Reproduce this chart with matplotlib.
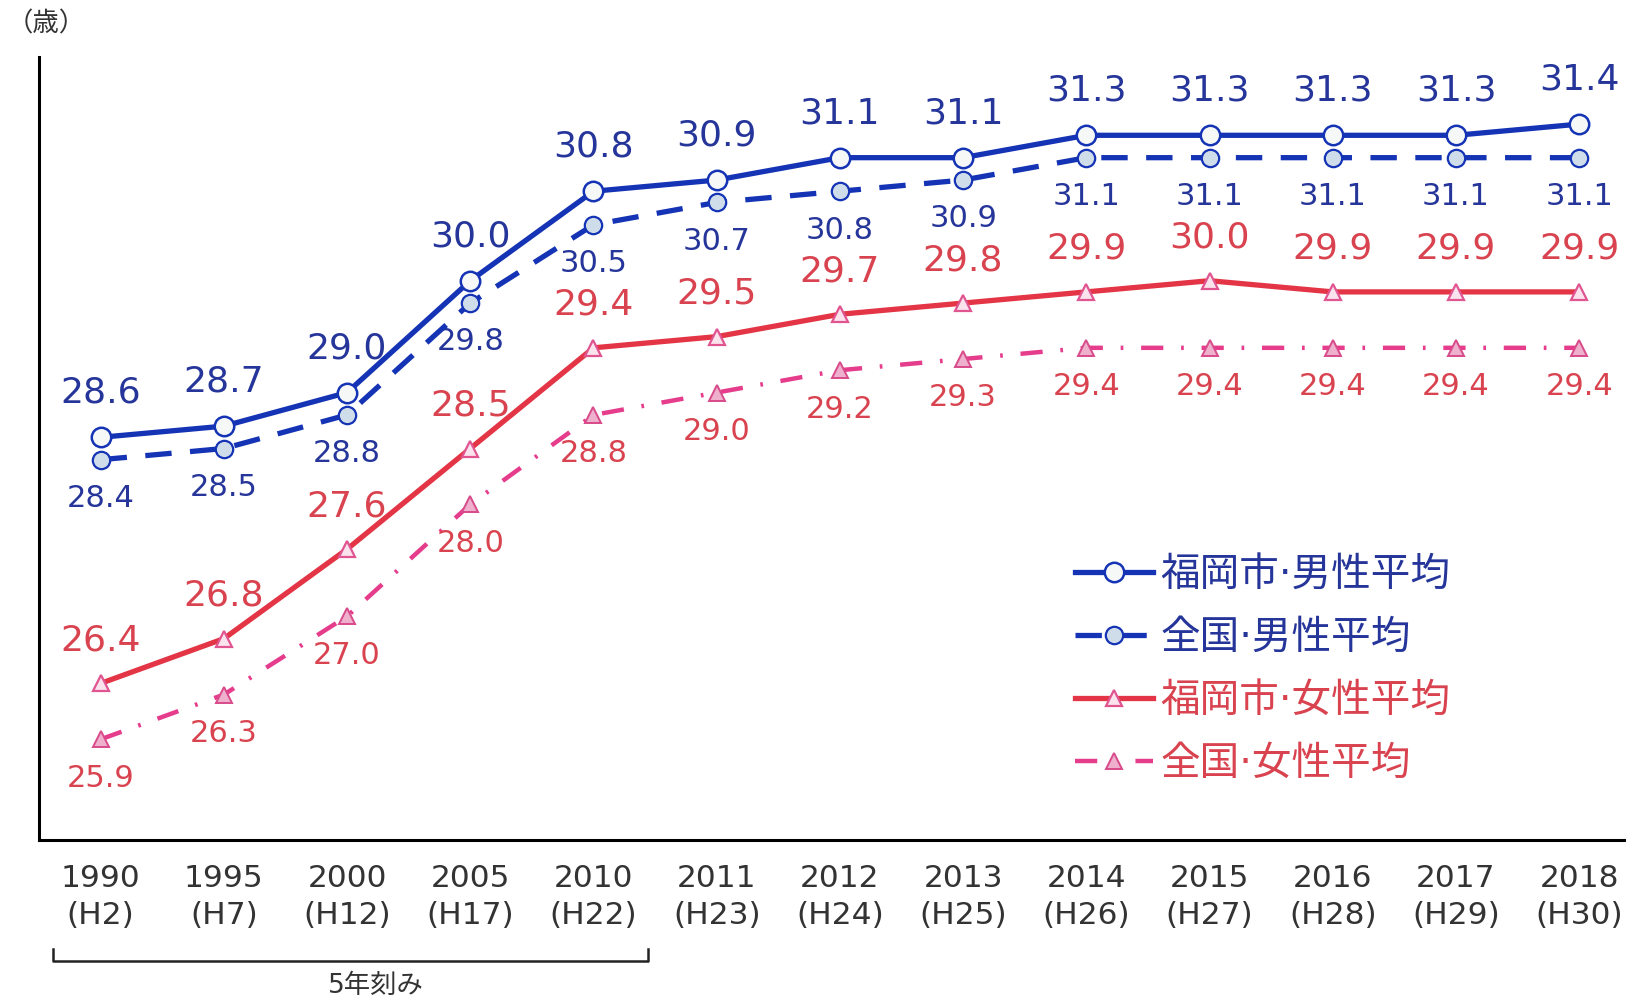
import matplotlib
matplotlib.use("Agg")
import matplotlib.pyplot as plt
import matplotlib.transforms as mtransforms

plt.rcParams['font.family'] = ['DejaVu Sans', 'Noto Sans CJK JP']

years = ["1990", "1995", "2000", "2005", "2010", "2011", "2012", "2013",
         "2014", "2015", "2016", "2017", "2018"]
eras = ["H2", "H7", "H12", "H17", "H22", "H23", "H24", "H25",
        "H26", "H27", "H28", "H29", "H30"]
fukuoka_male = [28.6, 28.7, 29.0, 30.0, 30.8, 30.9, 31.1, 31.1, 31.3, 31.3, 31.3, 31.3, 31.4]
national_male = [28.4, 28.5, 28.8, 29.8, 30.5, 30.7, 30.8, 30.9, 31.1, 31.1, 31.1, 31.1, 31.1]
fukuoka_female = [26.4, 26.8, 27.6, 28.5, 29.4, 29.5, 29.7, 29.8, 29.9, 30.0, 29.9, 29.9, 29.9]
national_female = [25.9, 26.3, 27.0, 28.0, 28.8, 29.0, 29.2, 29.3, 29.4, 29.4, 29.4, 29.4, 29.4]
series_names = ["福岡市·男性平均", "全国·男性平均", "福岡市·女性平均", "全国·女性平均"]
y_unit = "（歳）"
bracket_label = "5年刻み"

BLUE = "#1533b5"
BLUE_TXT = "#25359a"
RED = "#e33545"
RED_TXT = "#d9434f"
PINK = "#e63c8c"

fig = plt.figure(figsize=(16.26, 10), dpi=100)
ax = fig.add_axes([0.024, 0.16, 0.976, 0.783])
x = list(range(len(years)))

ax.plot(x, fukuoka_female, color=RED, lw=3.8, marker="^", ms=12,
        mfc="#fbe3ee", mec="#e05590", mew=1.6, zorder=3, label=series_names[2])
ax.plot(x, national_female, color=PINK, lw=3.2, dashes=(5, 4, 0.6, 4), marker="^", ms=11,
        mfc="#eeb0cc", mec="#d84a8a", mew=1.4, zorder=3, label=series_names[3])
ax.plot(x, national_male, color=BLUE, lw=3.8, dashes=(5, 3.5), marker="o", ms=12.5,
        mfc="#cfdcea", mec=BLUE, mew=1.6, zorder=4, label=series_names[1])
ax.plot(x, fukuoka_male, color=BLUE, lw=3.8, marker="o", ms=14,
        mfc="#f5f8f6", mec=BLUE, mew=1.8, zorder=5, label=series_names[0])

for xi, v in zip(x, fukuoka_male):
    ax.annotate(f"{v:.1f}", (xi, v), xytext=(0, 32), textcoords="offset points",
                ha="center", va="center", fontsize=26, color=BLUE_TXT)
for xi, v in zip(x, national_male):
    ax.annotate(f"{v:.1f}", (xi, v), xytext=(0, -28), textcoords="offset points",
                ha="center", va="center", fontsize=22, color=BLUE_TXT)
for xi, v in zip(x, fukuoka_female):
    ax.annotate(f"{v:.1f}", (xi, v), xytext=(0, 31), textcoords="offset points",
                ha="center", va="center", fontsize=26, color=RED_TXT)
for xi, v in zip(x, national_female):
    ax.annotate(f"{v:.1f}", (xi, v), xytext=(0, -28), textcoords="offset points",
                ha="center", va="center", fontsize=22, color=RED_TXT)

ax.set_xlim(-0.5, 12.38)
ax.set_ylim(25.0, 32.0)
ax.set_yticks([])
ax.set_xticks(x)
ax.set_xticklabels([f"{y}\n({e})" for y, e in zip(years, eras)],
                   fontsize=22.5, color="#333333", linespacing=1.35)
ax.tick_params(axis="x", length=0, pad=17.5)
for s in ["top", "right"]:
    ax.spines[s].set_visible(False)
for s in ["left", "bottom"]:
    ax.spines[s].set_linewidth(2.2)
    ax.spines[s].set_color("black")

fig.text(0.004, 0.976, y_unit, fontsize=19, color="#333333", ha="left", va="center")

# bracket under the 5-year span
trans = mtransforms.blended_transform_factory(ax.transData, ax.transAxes)
bx0, bx1 = -0.39, 4.44
ax.plot([bx0, bx0, bx1, bx1], [-0.139, -0.155, -0.155, -0.139], color="#222222",
        lw=1.8, transform=trans, clip_on=False)
ax.text(2.23, -0.187, bracket_label, transform=trans, ha="center",
        va="center", fontsize=19, color="#333333")

handles, labels = ax.get_legend_handles_labels()
order = [3, 2, 0, 1]
leg = ax.legend([handles[i] for i in order], [labels[i] for i in order],
                loc="upper left", bbox_to_anchor=(0.653, 0.364), frameon=False,
                borderpad=0, borderaxespad=0,
                fontsize=28.5, handlelength=1.95, handletextpad=0.2, labelspacing=0.58,
                labelcolor=[BLUE_TXT, BLUE_TXT, RED_TXT, RED_TXT])

fig.savefig("out.png", dpi=100)
